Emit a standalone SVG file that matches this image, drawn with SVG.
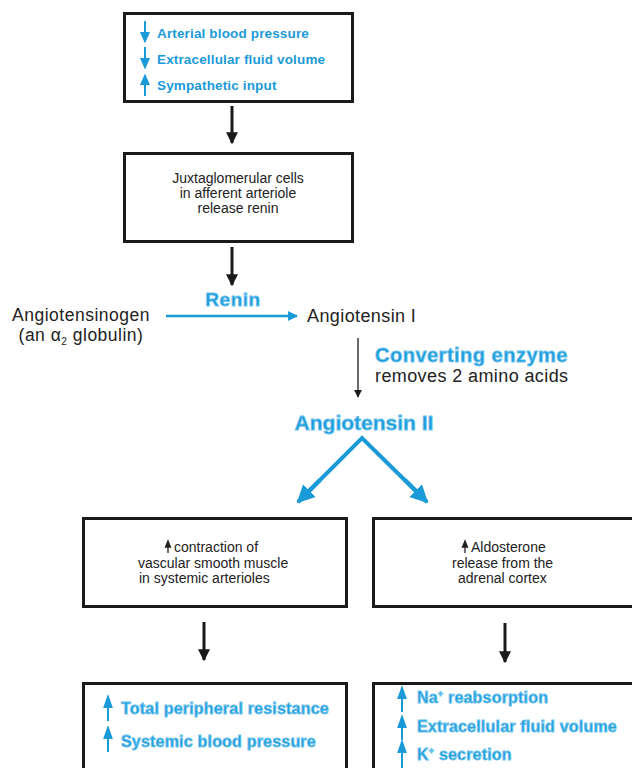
<svg xmlns="http://www.w3.org/2000/svg" width="632" height="768" viewBox="0 0 632 768">
<defs>
<style>
.box{fill:#fff;stroke:#1a1a1a;stroke-width:3}
.t{font-family:"Liberation Sans",Arial,sans-serif;fill:#222}
.b{font-family:"Liberation Sans",Arial,sans-serif;font-weight:bold;fill:#1b9ad8}
.bo{font-family:"Liberation Sans",Arial,sans-serif;font-weight:bold;fill:#1b9ad8;stroke:#6cc3ee;stroke-width:0.8}
.blk{stroke:#1a1a1a;stroke-width:3;fill:none}
.bl{stroke:#1b9ad8;fill:none}
</style>
<marker id="hb" viewBox="0 0 10 10" refX="9" refY="5" markerWidth="4" markerHeight="5" orient="auto" markerUnits="strokeWidth"><path d="M0,0 L10,5 L0,10 z" fill="#1a1a1a"/></marker>
<marker id="ht" viewBox="0 0 10 10" refX="9" refY="5" markerWidth="8" markerHeight="6" orient="auto" markerUnits="strokeWidth"><path d="M0,0 L10,5 L0,10 z" fill="#1a1a1a"/></marker>
<marker id="hbl" viewBox="0 0 10 10" refX="9" refY="5" markerWidth="7" markerHeight="4" orient="auto" markerUnits="strokeWidth"><path d="M0,0 L10,5 L0,10 z" fill="#1b9ad8"/></marker>
<marker id="hv" viewBox="0 0 10 10" refX="9" refY="5" markerWidth="4.5" markerHeight="4.5" orient="auto" markerUnits="strokeWidth"><path d="M0,0 L10,5 L0,10 z" fill="#1b9ad8"/></marker>
</defs>

<g id="connectors">
<line class="blk" x1="232" y1="106" x2="232" y2="143" marker-end="url(#hb)"/>
<line class="blk" x1="232" y1="247" x2="232" y2="285" marker-end="url(#hb)"/>
<line class="bl" stroke-width="2.5" x1="166" y1="316" x2="297" y2="316" marker-end="url(#hbl)"/>
<line stroke="#1a1a1a" stroke-width="1.3" x1="358" y1="338" x2="358" y2="397" marker-end="url(#ht)"/>
<polyline class="bl" stroke-width="4" points="300,500 362,438 425,500" stroke-linejoin="miter"/>
<line class="bl" stroke-width="4" x1="320" y1="480" x2="298" y2="502" marker-end="url(#hv)"/>
<line class="bl" stroke-width="4" x1="405" y1="480" x2="427" y2="502" marker-end="url(#hv)"/>
<line class="blk" x1="204" y1="622" x2="204" y2="660" marker-end="url(#hb)"/>
<line class="blk" x1="505" y1="623" x2="505" y2="662" marker-end="url(#hb)"/>
</g>

<g id="stimuli">
<rect class="box" x="124.5" y="13.5" width="228" height="88"/>
<g stroke="#1b9ad8" stroke-width="2" fill="#1b9ad8">
<path d="M145,21 L145,34 M141.5,33 L145,41 L148.5,33 z"/>
<path d="M145,47 L145,60 M141.5,59 L145,67 L148.5,59 z"/>
<path d="M145,96 L145,83 M141.5,84 L145,76 L148.5,84 z"/>
</g>
<g class="b" font-size="13.5" letter-spacing="0.15">
<text x="157" y="38">Arterial blood pressure</text>
<text x="157" y="64">Extracellular fluid volume</text>
<text x="157" y="90">Sympathetic input</text>
</g>
</g>

<g id="jg-cells">
<rect class="box" x="124.5" y="153.5" width="228" height="88"/>
<text class="t" font-size="14" text-anchor="middle"><tspan x="238" y="183">Juxtaglomerular cells</tspan><tspan x="238" y="198">in afferent arteriole</tspan><tspan x="238" y="213">release renin</tspan></text>
</g>

<g id="angiotensinogen">
<text class="t" x="81" y="321" font-size="17.5" letter-spacing="0.5" text-anchor="middle">Angiotensinogen</text>
<text class="t" x="81" y="341" font-size="17.5" letter-spacing="0.5" text-anchor="middle">(an α<tspan font-size="10" dy="4">2</tspan><tspan dy="-4"> globulin)</tspan></text>
</g>

<g id="renin-label">
<text class="bo" x="233" y="306" font-size="19" letter-spacing="0.5" text-anchor="middle">Renin</text>
</g>

<g id="angiotensin-i">
<text class="t" x="307" y="322" font-size="18" letter-spacing="0.4">Angiotensin I</text>
</g>

<g id="converting-enzyme">
<text class="bo" x="375" y="362" font-size="20" letter-spacing="0.5">Converting enzyme</text>
<text class="t" x="375" y="382" font-size="18" letter-spacing="0.4">removes 2 amino acids</text>
</g>

<g id="angiotensin-ii">
<text class="bo" x="364" y="430" font-size="21" text-anchor="middle">Angiotensin II</text>
</g>

<g id="vasoconstriction">
<rect class="box" x="83.5" y="518.5" width="263" height="88"/>
<path d="M168,553 L168,546 M165.5,547 L168,541 L170.5,547 z" stroke="#222" stroke-width="1.3" fill="#222"/>
<text class="t" font-size="14"><tspan x="174" y="552">contraction of</tspan><tspan x="138" y="568">vascular smooth muscle</tspan><tspan x="139" y="583">in systemic arterioles</tspan></text>
</g>

<g id="aldosterone">
<rect class="box" x="373.5" y="518.5" width="262" height="88"/>
<path d="M465,553 L465,546 M462.5,547 L465,541 L467.5,547 z" stroke="#222" stroke-width="1.3" fill="#222"/>
<text class="t" font-size="14"><tspan x="471" y="552">Aldosterone</tspan><tspan x="452" y="568">release from the</tspan><tspan x="458" y="583">adrenal cortex</tspan></text>
</g>

<g id="vascular-effects">
<rect class="box" x="83.5" y="683.5" width="263" height="90"/>
<g stroke="#1b9ad8" stroke-width="2" fill="#1b9ad8">
<path d="M108,721 L108,706 M104.5,707 L108,697 L111.5,707 z"/>
<path d="M108,752 L108,737 M104.5,738 L108,728 L111.5,738 z"/>
</g>
<g class="bo" font-size="16" letter-spacing="0.2">
<text x="121" y="714">Total peripheral resistance</text>
<text x="121" y="747">Systemic blood pressure</text>
</g>
</g>

<g id="renal-effects">
<rect class="box" x="373.5" y="683.5" width="262" height="90"/>
<g stroke="#1b9ad8" stroke-width="2" fill="#1b9ad8">
<path d="M402,712 L402,697 M398.5,698 L402,688 L405.5,698 z"/>
<path d="M402,740 L402,726 M398.5,727 L402,717 L405.5,727 z"/>
<path d="M402,768 L402,751 M398.5,752 L402,742 L405.5,752 z"/>
</g>
<g class="bo" font-size="16" letter-spacing="0.2">
<text x="417" y="703">Na<tspan font-size="9" dy="-6">+</tspan><tspan dy="6"> reabsorption</tspan></text>
<text x="417" y="732">Extracellular fluid volume</text>
<text x="417" y="760">K<tspan font-size="9" dy="-6">+</tspan><tspan dy="6"> secretion</tspan></text>
</g>
</g>
</svg>
